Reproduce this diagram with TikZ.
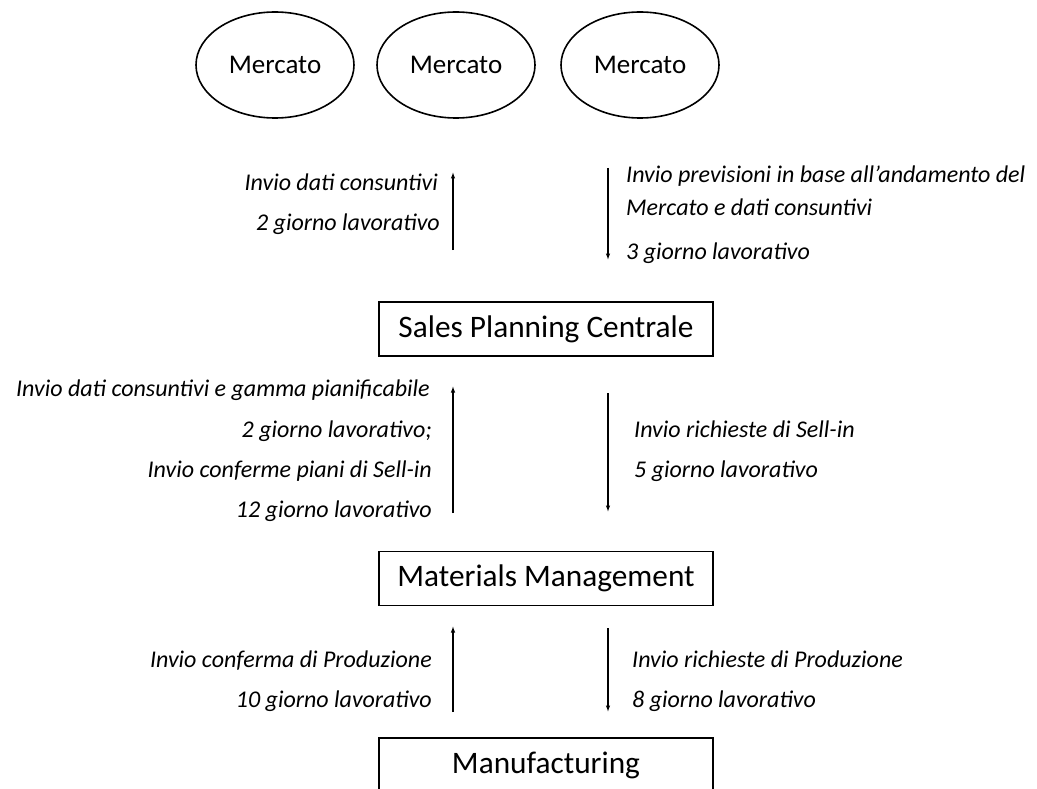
\documentclass[tikz,border=0pt]{standalone}
\usepackage{fontspec}
\setmainfont{Carlito}
\usetikzlibrary{shapes.geometric,arrows.meta}

\begin{document}
\begin{tikzpicture}[x=1pt,y=-1pt,
  market/.style={ellipse,draw,line width=1.6pt,minimum width=158pt,minimum height=106pt,
    inner sep=0pt,font=\fontsize{27}{30}\selectfont},
  unit/.style={rectangle,draw,line width=1.8pt,minimum width=334pt,minimum height=54pt,
    inner sep=0pt,font=\fontsize{31.3}{34}\selectfont},
  flow/.style={line width=1.2pt,-{Latex[length=6.5pt,width=4.5pt]}},
  note/.style={inner sep=0pt,font=\fontsize{24}{28}\selectfont\itshape},
  noteL/.style={note,anchor=base east},
  noteR/.style={note,anchor=base west}]
\clip (0,0) rectangle (1037,789);
\fill[white] (0,0) rectangle (1037,789);

% markets
\node[market] (m1) at (275,65) {Mercato};
\node[market] (m2) at (456,65) {Mercato};
\node[market] (m3) at (640,65) {Mercato};

% planning chain
\node[unit] (spc) at (546,329) {Sales Planning Centrale};
\node[unit] (mm)  at (546,578.5) {Materials Management};
\node[unit] (mf)  at (546,765) {Manufacturing};

% arrow end points
\coordinate (u1a) at (453,250); \coordinate (u1b) at (453,172);
\coordinate (d1a) at (608,168); \coordinate (d1b) at (608,260);
\coordinate (u2a) at (453,513); \coordinate (u2b) at (453,386);
\coordinate (d2a) at (608,393); \coordinate (d2b) at (608,512);
\coordinate (u3a) at (453,712); \coordinate (u3b) at (453,626);
\coordinate (d3a) at (608,628); \coordinate (d3b) at (608,712);

\draw[flow] (u1a) -- (u1b);
\draw[flow] (d1a) -- (d1b);
\draw[flow] (u2a) -- (u2b);
\draw[flow] (d2a) -- (d2b);
\draw[flow] (u3a) -- (u3b);
\draw[flow] (d3a) -- (d3b);

% Mercato <-> Sales Planning Centrale
\node[noteL] (t1) at (438,190) {Invio dati consuntivi};
\node[noteL] (t2) at (440,230) {2 giorno lavorativo};
\node[noteR] (t3) at (626,183) {Invio previsioni in base all’andamento del};
\node[noteR] (t4) at (626,215) {Mercato e dati consuntivi};
\node[noteR] (t5) at (626,259) {3 giorno lavorativo};

% Sales Planning Centrale <-> Materials Management
\node[noteL] (t6) at (430,396) {Invio dati consuntivi e gamma pianificabile};
\node[noteL] (t7) at (432,437) {2 giorno lavorativo;};
\node[noteL] (t8) at (432,477) {Invio conferme piani di Sell-in};
\node[noteL] (t9) at (432,517) {12 giorno lavorativo};
\node[noteR] (t10) at (634,437) {Invio richieste di Sell-in};
\node[noteR] (t11) at (634,477) {5 giorno lavorativo};

% Materials Management <-> Manufacturing
\node[noteL] (t12) at (432,667) {Invio conferma di Produzione};
\node[noteL] (t13) at (432,707) {10 giorno lavorativo};
\node[noteR] (t14) at (632,667) {Invio richieste di Produzione};
\node[noteR] (t15) at (632,707) {8 giorno lavorativo};
\end{tikzpicture}
\end{document}
